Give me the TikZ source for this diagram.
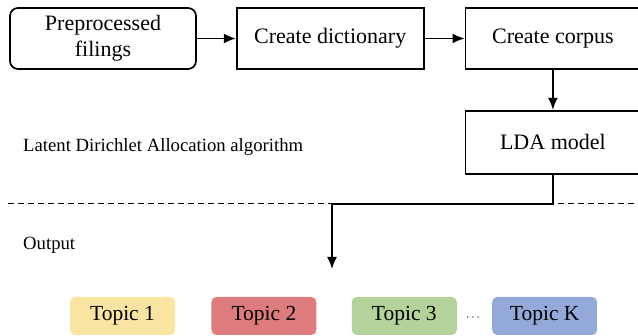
\documentclass[tikz,border=0pt]{standalone}
\usepackage{fontspec}
\setmainfont{Liberation Serif}
\usetikzlibrary{positioning,arrows.meta}
\definecolor{topicA}{HTML}{F9E4A2}
\definecolor{topicB}{HTML}{DE7C7D}
\definecolor{topicC}{HTML}{B3D39B}
\definecolor{topicD}{HTML}{93A9D8}
\begin{document}
\begin{tikzpicture}[x=1pt,y=1pt,>={Latex[length=12pt,width=10pt]},
        stage/.style={draw,line width=1.7pt,minimum height=61pt,inner sep=0pt,align=center,font=\fontsize{22}{26}\selectfont},
        topic/.style={rounded corners=5pt,minimum width=105pt,minimum height=38pt,inner sep=0pt,font=\fontsize{21.5}{24}\selectfont},
        flow/.style={->,line width=1.7pt},
        caption/.style={anchor=west,inner sep=0pt,font=\fontsize{18.7}{21}\selectfont}]
        \useasboundingbox(0,0)rectangle(638,336);
        % pipeline
        \node[stage,rounded corners=8pt,minimum width=186pt](pre)at(103,297.5){Preprocessed\\filings};
        \node[stage,minimum width=187pt,right=39pt of pre](dict){Create dictionary};
        \node[stage,minimum width=175pt,right=40pt of dict](corpus){Create corpus};
        \node[stage,minimum width=175pt,minimum height=63pt,below=40pt of corpus](lda){LDA model};
        \draw[flow](pre)--(dict);
        \draw[flow](dict)--(corpus);
        \draw[flow](corpus)--(lda);
        % phase labels and separator
        \node[caption](algo)at(23,189){Latent Dirichlet Allocation algorithm};
        \node[caption](out)at(23,91){Output};
        \draw[line width=1pt,dash pattern=on 6pt off 4pt](8,132)--(638,132);
        \coordinate(turn)at(332,132);
        \coordinate(tip)at(332,67);
        \draw[flow](lda.south)|-(turn)--(tip);
        % topics
        \node[topic,fill=topicA](t1)at(122.5,20){Topic 1};
        \node[topic,fill=topicB,right=36pt of t1](t2){Topic 2};
        \node[topic,fill=topicC,right=35pt of t2](t3){Topic 3};
        \node[topic,fill=topicD,right=35pt of t3](tk){Topic K};
        \node[inner sep=0pt,font=\fontsize{12}{14}\selectfont](dots)at(473,18){$\cdots$};
    \end{tikzpicture}
\end{document}
